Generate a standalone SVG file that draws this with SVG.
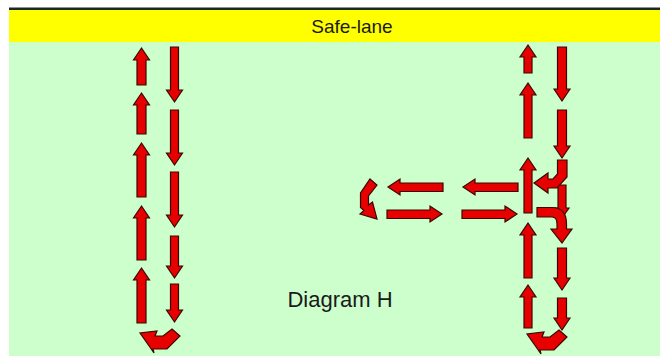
<svg xmlns="http://www.w3.org/2000/svg" width="660" height="356" viewBox="0 0 660 356">
<style>
.ar{fill:#e60000;stroke:#3a0800;stroke-width:1.2;stroke-linejoin:miter}
.t{font-family:"Liberation Sans",Arial,sans-serif;fill:#1a1a1a}
</style>
<rect x="0" y="0" width="660" height="356" fill="#ffffff"/>
<rect x="9" y="9" width="651" height="347" fill="#ccffcc"/>
<rect x="9" y="10" width="651" height="32" fill="#ffff00"/>
<rect x="9" y="7.5" width="651" height="2.5" fill="#1a2a1a"/>
<g id="title"><text class="t" x="352" y="33" font-size="19" text-anchor="middle">Safe-lane</text></g>
<g id="caption"><text class="t" x="340" y="307" font-size="22" text-anchor="middle">Diagram H</text></g>
<g id="connectors">
<!-- left column up -->
<polygon class="ar" points="141.5,48 149.5,60 146,60 146,85 137,85 137,60 133.5,60"/>
<polygon class="ar" points="141.5,93 149.5,105 146,105 146,134 137,134 137,105 133.5,105"/>
<polygon class="ar" points="141.5,143 149.5,155 146,155 146,197 137,197 137,155 133.5,155"/>
<polygon class="ar" points="141.5,206 149.5,218 146,218 146,260 137,260 137,218 133.5,218"/>
<polygon class="ar" points="141.5,268 149.5,280 146,280 146,323 137,323 137,280 133.5,280"/>
<!-- left column down -->
<polygon class="ar" points="174.5,102 166.5,90 170.5,90 170.5,47 178.5,47 178.5,90 182.5,90"/>
<polygon class="ar" points="174.5,165 166.5,153 170.5,153 170.5,110 178.5,110 178.5,153 182.5,153"/>
<polygon class="ar" points="174.5,227 166.5,215 170.5,215 170.5,172 178.5,172 178.5,215 182.5,215"/>
<polygon class="ar" points="174.5,278 166.5,266 170.5,266 170.5,236 178.5,236 178.5,266 182.5,266"/>
<polygon class="ar" points="174.5,322 166.5,310 170.5,310 170.5,284 178.5,284 178.5,310 182.5,310"/>
<!-- left U-turn -->
<polygon class="ar" points="172,329 180,336 167,349 153,349 154,353 140,333 157,331 155,336 163,336"/>
<!-- right column up -->
<polygon class="ar" points="528,45 536,57 532,57 532,73 524,73 524,57 520,57"/>
<polygon class="ar" points="528,83 536,95 532,95 532,138 524,138 524,95 520,95"/>
<polygon class="ar" points="528,158 536,170 532,170 532,213 524,213 524,170 520,170"/>
<polygon class="ar" points="528,223 536,235 532,235 532,278 524,278 524,235 520,235"/>
<polygon class="ar" points="528,285 536,297 532,297 532,328 524,328 524,297 520,297"/>
<!-- right column down -->
<polygon class="ar" points="562,101 554,89 557.5,89 557.5,47 566.5,47 566.5,89 570,89"/>
<polygon class="ar" points="562,158 554,146 557.5,146 557.5,110 566.5,110 566.5,146 570,146"/>
<polygon class="ar" points="562,218 555,208 558,208 558,185 566,185 566,208 569,208"/>
<polygon class="ar" points="562,290 554,278 557.5,278 557.5,248 566.5,248 566.5,278 570,278"/>
<polygon class="ar" points="562,330 554,318 557.5,318 557.5,298 566.5,298 566.5,318 570,318"/>
<!-- right bent arrow (down then left) -->
<polygon class="ar" points="557.5,160 567,160 567,177 557,188 548,188 548,193 534,183 548,173 548,179 553,179 557.5,174"/>
<!-- right curved arrow (right then down) -->
<path class="ar" d="M537,207.5 L552,207.5 Q566.5,207.5 566.5,224 L566.5,229 L572,229 L562,243 L551,229 L557,229 L557,224 Q557,217 552,217 L537,217 Z"/>
<!-- right U-turn -->
<polygon class="ar" points="559,330 567,337 554,350 540,350 541,354 527,334 544,332 542,337 550,337"/>
<!-- horizontal arrows -->
<polygon class="ar" points="388,187 400,179 400,183 443,183 443,191.5 400,191.5 400,195"/>
<polygon class="ar" points="463,187 475,179 475,183 518,183 518,191.5 475,191.5 475,195"/>
<polygon class="ar" points="442,214 430,206 430,210 387,210 387,218.5 430,218.5 430,222"/>
<polygon class="ar" points="517,214 505,206 505,210 462,210 462,218.5 505,218.5 505,222"/>
<!-- left curved arrow -->
<polygon class="ar" points="370,179 377,185 368.5,196 368.5,205 372.5,202 377,219 360,214 364,210.5 360.5,207.5 360.5,193"/>
</g>
</svg>
